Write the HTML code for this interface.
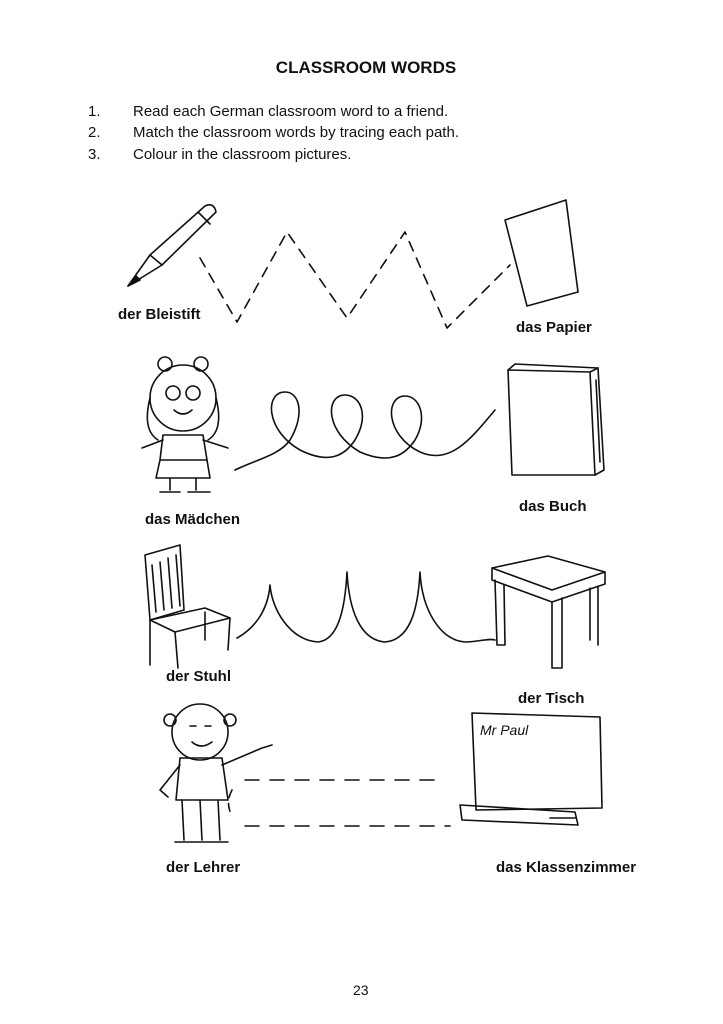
<!DOCTYPE html>
<html><head><meta charset="utf-8"><style>
html,body{margin:0;padding:0;background:#fff;}
body{width:723px;height:1024px;position:relative;overflow:hidden;font-family:"Liberation Sans",sans-serif;color:#111;}
.t{position:absolute;white-space:nowrap;}
.b{font-weight:bold;font-size:15px;}
.li{font-size:15px;}
svg{position:absolute;left:0;top:0;}
</style></head><body>
<div class="t" style="left:0;width:732px;text-align:center;top:58px;font-size:17px;font-weight:bold;">CLASSROOM WORDS</div>
<div class="t li" style="left:88px;top:103px">1.</div><div class="t li" style="left:133px;top:103px">Read each German classroom word to a friend.</div>
<div class="t li" style="left:88px;top:124px">2.</div><div class="t li" style="left:133px;top:124px">Match the classroom words by tracing each path.</div>
<div class="t li" style="left:88px;top:146px">3.</div><div class="t li" style="left:133px;top:146px">Colour in the classroom pictures.</div>

<div class="t b" style="left:118px;top:306px">der Bleistift</div>
<div class="t b" style="left:516px;top:319px">das Papier</div>
<div class="t b" style="left:145px;top:511px">das Mädchen</div>
<div class="t b" style="left:519px;top:498px">das Buch</div>
<div class="t b" style="left:166px;top:668px">der Stuhl</div>
<div class="t b" style="left:518px;top:690px">der Tisch</div>
<div class="t b" style="left:166px;top:859px">der Lehrer</div>
<div class="t b" style="left:496px;top:859px">das Klassenzimmer</div>
<div class="t" style="left:353px;top:982px;font-size:14px">23</div>

<svg width="723" height="1024" fill="none" stroke="#111" stroke-width="1.6" stroke-linecap="round" stroke-linejoin="round">
<!-- pencil -->
<g>
<path d="M150,255 L205,206 Q214,202 216,212 L162,265 Z"/>
<path d="M150,255 L128,286 L162,265"/>
<path d="M128,286 L136,276 L140,280 Z" fill="#111"/>
<path d="M198,212 L210,224"/>
</g>
<!-- paper -->
<path d="M505,220 L566,200 L578,292 L527,306 Z"/>
<!-- zigzag dashed -->
<path d="M200,258 L237,322 L287,232 L347,318 L405,232 L447,328 L510,265" stroke-dasharray="10,8"/>
<!-- girl -->
<g>
<circle cx="183" cy="398" r="33"/>
<path d="M150,398 Q142,430 158,440 M216,398 Q224,430 208,440"/>
<circle cx="165" cy="364" r="7"/><circle cx="201" cy="364" r="7"/>
<circle cx="173" cy="393" r="7"/><circle cx="193" cy="393" r="7"/>
<path d="M174,410 Q183,418 192,410"/>
<path d="M163,435 L203,435 L207,460 L160,460 Z"/>
<path d="M160,460 L156,478 L210,478 L207,460"/>
<path d="M163,440 L142,448 M203,440 L228,448"/>
<path d="M170,478 L170,490 M196,478 L196,490"/>
<path d="M160,492 L180,492 M188,492 L210,492"/>
</g>
<!-- loops -->
<path d="M235,470 C255,460 280,455 290,440 C305,415 300,392 285,392 C265,392 265,430 300,450 C330,465 345,455 355,440 C370,415 360,395 345,395 C325,395 325,432 360,452 C390,465 405,455 415,440 C428,418 420,396 405,396 C385,396 385,435 420,452 C450,465 470,440 495,410"/>
<!-- book -->
<path d="M508,370 L590,372 L595,475 L512,475 Z"/>
<path d="M590,372 L598,368 L604,470 L595,475"/>
<path d="M508,370 L515,364 L598,368"/>
<path d="M596,380 L600,462"/>
<!-- chair -->
<g>
<path d="M145,555 L180,545 L184,610 L150,620 Z"/>
<path d="M152,565 L156,612 M160,562 L164,610 M168,558 L172,608 M176,555 L180,606"/>
<path d="M150,620 L205,608 L230,618 L175,632 Z"/>
<path d="M150,620 L150,665 M175,632 L178,668 M230,618 L228,650 M205,612 L205,640"/>
</g>
<!-- arches -->
<path d="M237,638 C255,628 268,610 270,585 C272,610 290,640 318,642 C338,640 345,610 347,572 C349,610 360,640 385,642 C410,640 418,610 420,572 C422,610 440,640 465,642 C478,642 488,638 495,640"/>
<!-- table -->
<g>
<path d="M492,568 L548,556 L605,572 L552,590 Z"/>
<path d="M492,568 L492,580 L552,602 L605,584 L605,572"/>
<path d="M552,602 L552,668 L562,668 L562,598 M495,580 L497,645 L505,645 L504,585 M598,586 L598,645 M590,588 L590,640"/>
</g>
<!-- teacher -->
<g>
<circle cx="200" cy="732" r="28"/>
<circle cx="170" cy="720" r="6"/><circle cx="230" cy="720" r="6"/>
<path d="M190,726 L196,726 M205,726 L211,726"/>
<path d="M192,742 Q201,750 212,742"/>
<path d="M180,758 L222,758 L228,800 L176,800 Z"/>
<path d="M222,765 L262,748 L272,745 M180,765 L160,790 L168,797"/>
<path d="M182,800 L184,840 M200,800 L202,840 M218,800 L220,840"/>
<path d="M175,842 L200,842 M200,842 L228,842"/>
</g>
<!-- dashed rounded path -->
<path d="M245,780 L445,780" stroke-dasharray="14,11"/>
<path d="M245,826 L450,826" stroke-dasharray="14,11"/>
<path d="M232,790 Q225,803 232,816" stroke-dasharray="8,6"/>
<!-- board -->
<path d="M472,713 L600,717 L602,808 L476,810 Z"/>
<path d="M460,805 L575,812 L578,825 L462,820 Z"/>
<path d="M550,818 L576,818"/>
<text x="480" y="735" font-family="Liberation Sans, sans-serif" font-size="14" fill="#111" stroke="none" font-style="italic">Mr Paul</text>
</svg>
</body></html>
